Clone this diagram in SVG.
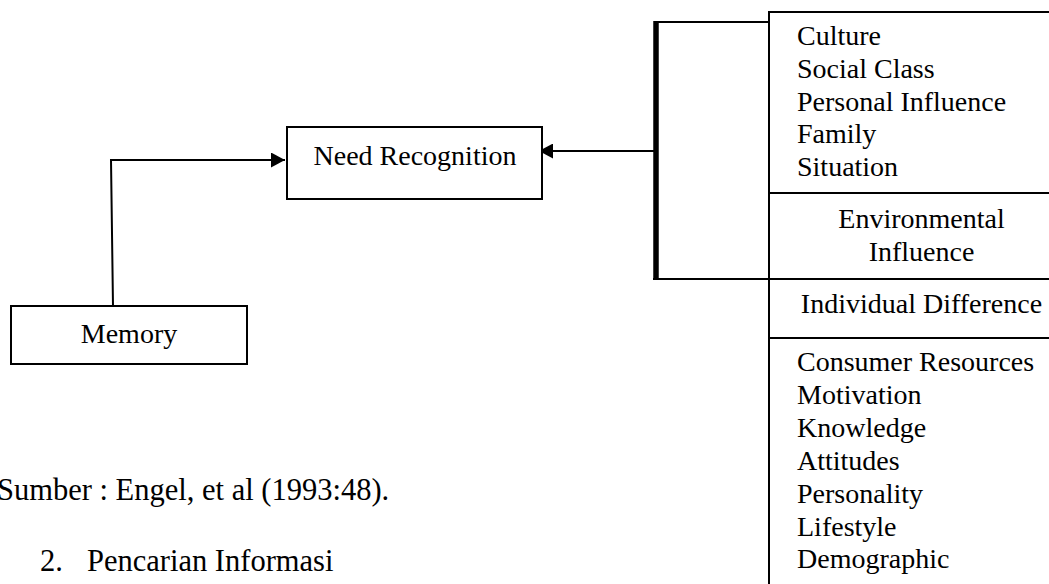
<svg xmlns="http://www.w3.org/2000/svg" width="1049" height="584" viewBox="0 0 1049 584">
  <style>
    .box { fill: #fff; stroke: #000; stroke-width: 2; }
    .ln { fill: none; stroke: #000; stroke-width: 2; }
    .t { font-family: "Liberation Serif", "Times New Roman", serif; font-size: 28px; fill: #000; }
    .body { font-family: "Liberation Serif", "Times New Roman", serif; font-size: 30.5px; fill: #000; }
    .mid { text-anchor: middle; }
  </style>
  <defs>
    <marker id="arrow" viewBox="0 0 10 10" refX="10" refY="5" markerWidth="7.5" markerHeight="7.5" markerUnits="userSpaceOnUse" orient="auto">
      <path d="M0,0 L10,5 L0,10 Z" fill="#000"/>
    </marker>
    <marker id="head" viewBox="0 0 14 15" refX="14" refY="7.5" markerWidth="14" markerHeight="15" markerUnits="userSpaceOnUse" orient="auto">
      <path d="M0,0 L14,7.5 L0,15 Z" fill="#000"/>
    </marker>
  </defs>

  <!-- connectors -->
  <g id="connectors">
    <polyline class="ln" points="113,306 111,160 285,160" marker-end="url(#head)"/>
    <line class="ln" x1="654" y1="151" x2="539" y2="151" marker-end="url(#head)"/>
    <!-- bracket gathering the influence groups -->
    <line x1="656" y1="21" x2="656" y2="280" stroke="#000" stroke-width="5.5"/>
    <line class="ln" x1="654" y1="22" x2="769" y2="22"/>
    <line class="ln" x1="653" y1="279" x2="769" y2="279"/>
  </g>

  <g id="memory">
    <rect class="box" x="11" y="306" width="236" height="58"/>
    <text class="t mid" x="129" y="343">Memory</text>
  </g>

  <g id="need-recognition">
    <rect class="box" x="287" y="127" width="255" height="72"/>
    <text class="t mid" x="415" y="165">Need Recognition</text>
  </g>

  <g id="influences">
    <path class="ln" d="M769,590 L769,12 L1060,12 M769,193 L1060,193 M769,279 L1060,279 M769,338 L1060,338"/>
    <text class="t" x="797" y="45">Culture</text>
    <text class="t" x="797" y="78">Social Class</text>
    <text class="t" x="797" y="111">Personal Influence</text>
    <text class="t" x="797" y="143">Family</text>
    <text class="t" x="797" y="176">Situation</text>
    <text class="t mid" x="921.5" y="228">Environmental</text>
    <text class="t mid" x="921.5" y="261">Influence</text>
    <text class="t mid" x="921.5" y="313">Individual Difference</text>
    <text class="t" x="797" y="371">Consumer Resources</text>
    <text class="t" x="797" y="404">Motivation</text>
    <text class="t" x="797" y="437">Knowledge</text>
    <text class="t" x="797" y="470">Attitudes</text>
    <text class="t" x="797" y="503">Personality</text>
    <text class="t" x="797" y="536">Lifestyle</text>
    <text class="t" x="797" y="568">Demographic</text>
  </g>

  <g id="caption">
    <text class="body" x="-3" y="500">Sumber : Engel, et al (1993:48).</text>
    <text class="body" x="40" y="571">2.</text>
    <text class="body" x="87" y="571">Pencarian Informasi</text>
  </g>
</svg>
